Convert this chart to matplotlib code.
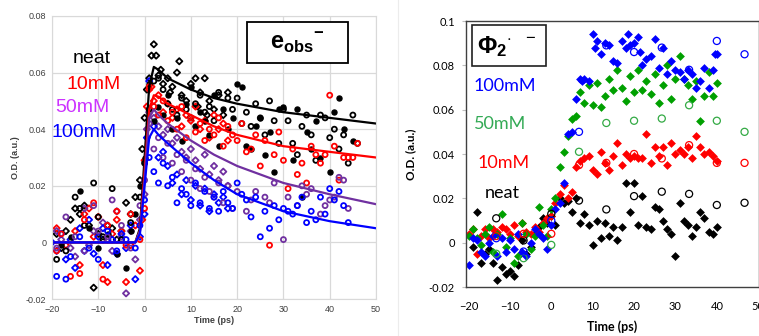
import matplotlib.pyplot as plt
from matplotlib.patches import Rectangle
from matplotlib.lines import Line2D

# ---------------- left panel: e_obs- decay ----------------
neat_circ_t = [-19, -17, -15, -14, -13, -11, -10, -9, -7, -5, -3, -1, 0,
               1, 2, 3, 4, 5, 6, 7, 8, 9, 10, 11, 12, 13, 14, 15, 16, 18, 19, 20, 21, 22, 23, 24,
               25, 26, 27, 28, 29, 30, 31, 32, 33, 34, 35, 36, 37, 38, 39, 40, 41, 42, 43, 44, 45, 46]
neat_circ_v = [-0.006, -0.003, 0.016, 0.012, 0.006, 0.021, 0.009, 0.002, 0.019, 0.001, 0.007, 0.016, 0.028,
               0.047, 0.057, 0.058, 0.054, 0.049, 0.047, 0.045, 0.051, 0.047, 0.044, 0.049, 0.052, 0.046, 0.048,
               0.043, 0.053, 0.051, 0.047, 0.051, 0.042, 0.046, 0.041, 0.049, 0.044, 0.038, 0.050, 0.043, 0.035,
               0.047, 0.043, 0.035, 0.031, 0.041, 0.045, 0.038, 0.029, 0.045, 0.044, 0.037, 0.040, 0.033, 0.038,
               0.028, 0.045, 0.035]

neat_dot_t = [-18, -16, -14, -12, -10, -8, -6, -4, -3, -2, -1, 0,
              1, 2, 3, 4, 5, 6, 7, 8, 9, 10, 11, 12, 13, 14, 15, 16, 17, 18, 19, 20, 21, 22, 23, 24,
              25, 26, 27, 28, 29, 30, 32, 33, 34, 35, 36, 37, 38, 40, 41, 42, 43, 45]
neat_dot_v = [-0.001, 0.002, 0.018, 0.005, -0.002, 0.003, -0.004, -0.009, 0.004, 0.010, 0.020, 0.030,
              0.056, 0.043, 0.048, 0.045, 0.052, 0.040, 0.044, 0.036, 0.049, 0.055, 0.041, 0.046, 0.043,
              0.038, 0.052, 0.034, 0.047, 0.040, 0.044, 0.056, 0.055, 0.034, 0.033, 0.041, 0.044, 0.031,
              0.039, 0.025, 0.047, 0.048, 0.029, 0.047, 0.016, 0.039, 0.033, 0.043, 0.030, 0.025, 0.046,
              0.051, 0.040, 0.036]

neat_dia_t = [-19, -18, -17, -16, -15, -14, -13, -12, -11, -10, -9, -8, -7, -6, -5, -4, -3, -2, -1, -0.5, 0,
              0.5, 1, 1.5, 2, 2.5, 3, 3.5, 4, 5, 5.5, 6, 7, 7.5, 8, 9, 10, 11, 11.5, 12, 13, 13.5, 14, 15,
              16, 17, 18]
neat_dia_v = [0.003, -0.002, 0.004, 0.008, 0.012, 0.010, 0.013, 0.006, -0.016, 0.003, 0.001, 0.006, 0.005,
              0.001, 0.004, 0.014, 0.010, 0.016, 0.022, 0.033, 0.044,
              0.054, 0.058, 0.066, 0.070, 0.066, 0.059, 0.061, 0.056, 0.058, 0.053, 0.055, 0.060, 0.064,
              0.052, 0.050, 0.056, 0.058, 0.048, 0.053, 0.058, 0.045, 0.050, 0.047, 0.052, 0.045, 0.053]

r10_circ_t = [-19, -18, -16, -14, -13, -11, -9, -8, -6, -4, -3, -1, 0,
              1, 2, 3, 4, 5, 6, 7, 8, 9, 10, 11, 12, 13, 14, 15, 16, 17, 18, 19, 20, 21, 22, 23, 24,
              25, 26, 27, 28, 29, 30, 31, 32, 33, 34, 35, 36, 37, 38, 39, 40, 41, 42, 43, 44, 45, 46]
r10_circ_v = [-0.003, 0.003, -0.012, -0.011, 0.008, 0.014, -0.013, 0.006, 0.011, -0.001, 0.010, 0.001, 0.012,
              0.055, 0.048, 0.045, 0.050, 0.043, 0.046, 0.040, 0.048, 0.037, 0.044, 0.039, 0.042, 0.036,
              0.040, 0.038, 0.044, 0.034, 0.041, 0.038, 0.036, 0.042, 0.032, 0.033, 0.038, 0.027, 0.036,
              -0.001, 0.031, 0.039, 0.029, 0.019, 0.033, 0.024, 0.028, 0.021, 0.034, 0.031, 0.028, 0.031,
              0.052, 0.034, 0.022, 0.030, 0.030, 0.030, 0.035]

r10_dia_t = [-19, -17, -15, -14, -13, -12, -11, -10, -9, -8, -7, -6, -5, -4, -3, -2, -1, -0.5, 0,
             0.5, 1, 1.5, 2, 3, 4, 5, 6, 7, 8, 9, 10, 11, 12, 13, 14, 15, 16, 17, 18]
r10_dia_v = [0.005, -0.001, 0.004, -0.008, 0.010, 0.012, 0.002, 0.009, -0.008, -0.014, 0.003, 0.008, 0.004,
             -0.014, -0.001, 0.006, -0.010, 0.008, 0.029,
             0.048, 0.054, 0.055, 0.050, 0.052, 0.046, 0.049, 0.044, 0.047, 0.041, 0.045, 0.043, 0.048,
             0.040, 0.043, 0.037, 0.045, 0.040, 0.042, 0.036]

r50_circ_t = [-19, -17, -15, -13, -11, -10, -8, -7, -5, -3, -1, 0,
              1, 2, 3, 4, 5, 6, 7, 8, 9, 10, 11, 12, 13, 14, 15, 16, 17, 18, 19, 20, 22, 23, 24,
              26, 27, 28, 30, 31, 33, 34, 35, 36, 38, 39, 40, 41, 42, 43, 44]
r50_circ_v = [-0.002, 0.009, 0.002, -0.003, 0.013, 0.004, 0.002, 0.015, 0.006, -0.002, 0.013, 0.022,
              0.042, 0.033, 0.037, 0.030, 0.035, 0.028, 0.031, 0.025, 0.029, 0.022, 0.026, 0.019, 0.023,
              0.018, 0.016, 0.021, 0.014, 0.020, 0.012, 0.018, 0.011, 0.015, 0.018, 0.016, 0.014, 0.021,
              0.001, 0.016, 0.013, 0.020, 0.017, 0.019, 0.010, 0.013, 0.015, 0.016, 0.023, 0.022, 0.012]

r50_dia_t = [-19, -18, -16, -15, -13, -12, -11, -9, -8, -7, -6, -5, -4, -3, -2, -1, 0,
             0.5, 1, 2, 3, 4, 5, 6, 7, 8, 9, 10, 11, 12, 13, 14, 15, 16, 17, 18]
r50_dia_v = [0.004, 0.001, -0.002, -0.005, 0.012, -0.001, 0.004, 0.007, 0.001, -0.003, 0.011, 0.002,
             -0.018, 0.004, -0.006, 0.008, 0.017,
             0.040, 0.046, 0.044, 0.041, 0.038, 0.040, 0.035, 0.037, 0.032, 0.030, 0.033, 0.029, 0.026,
             0.031, 0.024, 0.027, 0.022, 0.025, 0.020]

r100_circ_t = [-19, -17, -16, -14, -12, -10, -8, -6, -4, -2, -1, 0,
               1, 2, 3, 4, 5, 6, 7, 8, 9, 10, 11, 12, 13, 14, 15, 16, 17, 18, 19, 20, 21, 22, 23, 24,
               25, 26, 27, 28, 29, 30, 31, 32, 33, 34, 35, 36, 37, 38, 39, 40, 41, 42, 43, 44]
r100_circ_v = [-0.012, -0.013, -0.005, 0.002, -0.002, -0.006, 0.004, -0.003, 0.001, -0.002, 0.006, 0.015,
               0.030, 0.025, 0.021, 0.028, 0.020, 0.023, 0.014, 0.019, 0.017, 0.013, 0.021, 0.014, 0.018,
               0.012, 0.016, 0.011, 0.018, 0.014, 0.012, 0.021, 0.017, 0.015, 0.009, 0.016, 0.002, 0.011,
               0.005, 0.013, 0.008, 0.012, 0.011, 0.010, 0.013, 0.016, 0.007, 0.011, 0.008, 0.016, 0.010,
               0.019, 0.015, 0.018, 0.013, 0.007]

r100_dia_t = [-20, -19, -18, -17, -16, -15, -14, -13, -12, -11, -10, -9, -8, -7, -6, -5, -4, -3, -2, -1, 0,
              0.5, 1, 2, 3, 4, 5, 6, 7, 8, 9, 10, 11, 12, 13, 14, 15, 16, 17, 18]
r100_dia_v = [0.000, -0.003, 0.003, -0.006, 0.001, -0.009, 0.005, -0.003, 0.008, -0.004, 0.002, 0.005,
              -0.008, 0.001, -0.004, 0.003, -0.002, 0.006, -0.013, 0.002, 0.010,
              0.037, 0.057, 0.041, 0.030, 0.032, 0.027, 0.021, 0.024, 0.017, 0.022, 0.015, 0.020, 0.013,
              0.019, 0.011, 0.017, 0.014, 0.016, 0.012]

# fitted curves
fit_t = [-20, -2, -1, 0, 1, 2, 3, 5, 10, 15, 20, 30, 40, 50]
fit_neat = [0, 0, 0.005, 0.030, 0.055, 0.062, 0.061, 0.058, 0.054, 0.051, 0.049, 0.046, 0.044, 0.042]
fit_10 = [0, 0, 0.004, 0.025, 0.047, 0.052, 0.0515, 0.049, 0.045, 0.041, 0.038, 0.034, 0.032, 0.030]
fit_50 = [0, 0, 0.004, 0.022, 0.044, 0.047, 0.045, 0.042, 0.036, 0.031, 0.027, 0.021, 0.017, 0.0135]
fit_100 = [0, 0, 0.003, 0.020, 0.037, 0.040, 0.038, 0.035, 0.028, 0.022, 0.017, 0.011, 0.0075, 0.005]

left_yticks = [-0.02, 0, 0.02, 0.04, 0.06, 0.08]
left_ylabels = ["-0.02", "0", "0.02", "0.04", "0.06", "0.08"]
left_xticks = [-20, -10, 0, 10, 20, 30, 40, 50]

# ---------------- right panel: Phi2 anion ----------------
b_neat_t = [-19, -18, -17, -16, -15, -14, -13, -12, -11, -10, -9, -8, -7, -6, -5, -4, -3, -2, -1, 0,
            1, 2, 3, 4, 5, 6, 7, 8, 9, 10, 11, 12, 13, 14, 15, 16, 17, 18, 19, 20, 21, 22, 23, 24, 25,
            26, 27, 28, 29, 30, 31, 32, 33, 34, 35, 36, 37, 38, 39, 40]
b_neat_v = [-0.002, 0.014, -0.009, -0.005, -0.003, -0.009, -0.017, -0.011, -0.014, -0.013, -0.015, -0.010,
            0.001, -0.005, -0.002, 0.004, 0.007, 0.011, 0.009, 0.012,
            0.008, 0.020, 0.018, 0.019, 0.014, 0.020, 0.009, 0.013, 0.008, -0.001, 0.010, 0.002, 0.009,
            0.003, 0.007, 0.001, 0.007, 0.027, 0.014, 0.027, 0.008, 0.021, 0.007, 0.006, 0.016, 0.015,
            0.010, 0.006, 0.004, -0.006, 0.018, 0.010, 0.008, 0.003, 0.007, 0.014, 0.011, 0.005, 0.004, 0.007]

b_10_t = [-20, -19, -18, -17, -16, -15, -14, -13, -12, -11, -10, -9, -8, -7, -6, -5, -4, -3, -2, -1, 0, 1, 2,
          3, 4, 5, 6, 7, 8, 9, 10, 11, 12, 13, 14, 15, 16, 17, 18, 19, 20, 21, 22, 23, 24, 25, 26,
          27, 28, 29, 30, 31, 32, 33, 34, 35, 36, 37, 38, 39, 40]
b_10_v = [0.004, 0.006, -0.005, 0.003, 0.006, 0.002, 0.006, 0.005, 0.007, 0.006, 0.004, 0.008, 0.003, 0.009,
          0.005, 0.004, 0.007, 0.005, 0.009, 0.011, 0.012, 0.018, 0.022,
          0.026, 0.020, 0.023, 0.034, 0.037, 0.038, 0.039, 0.033, 0.031, 0.041, 0.036, 0.033, 0.039,
          0.045, 0.035, 0.040, 0.038, 0.039, 0.038, 0.038, 0.049, 0.036, 0.043, 0.039, 0.043, 0.035,
          0.045, 0.040, 0.042, 0.040, 0.043, 0.038, 0.048, 0.043, 0.040, 0.041, 0.039, 0.037]

b_50_t = [-20, -19, -18, -17, -16, -15, -14, -13, -12, -11, -10, -9, -8, -7, -6, -5, -4, -3, -2, -1, 0, 1, 2,
          3, 4, 5, 6, 7, 8, 9, 10, 11, 12, 13, 14, 15, 16, 17, 18, 19, 20, 21, 22, 23, 24, 25, 26,
          27, 28, 29, 30, 31, 32, 33, 34, 35, 36, 37, 38, 39, 40]
b_50_v = [0.003, 0.006, 0.002, -0.001, 0.004, 0.007, -0.004, 0.004, 0.013, -0.002, 0.002, -0.009, -0.006,
          0.009, 0.004, -0.003, 0.003, 0.016, 0.008, 0.003, 0.015, 0.020, 0.034,
          0.041, 0.048, 0.056, 0.057, 0.068, 0.063, 0.071, 0.062, 0.072, 0.061, 0.066, 0.074, 0.069,
          0.078, 0.070, 0.064, 0.075, 0.068, 0.078, 0.069, 0.073, 0.067, 0.076, 0.063, 0.071, 0.080,
          0.065, 0.074, 0.084, 0.074, 0.071, 0.065, 0.073, 0.055, 0.066, 0.077, 0.066, 0.072]

b_100_t = [-20, -19, -18, -17, -16, -15, -14, -13, -12, -11, -10, -9, -8, -7, -6, -5, -4, -3, -2, -1, 0, 1,
           2, 3, 4, 5, 6, 7, 7.5, 8, 9, 10, 10.5, 11, 12, 13, 14, 15, 16, 17, 18, 18.5, 19, 20, 21, 21.5,
           22, 23, 24, 25, 26, 27, 28, 29, 30, 31, 32, 33, 34, 35, 36, 37, 38, 39, 39.5, 40]
b_100_v = [-0.010, 0.002, 0.001, -0.004, -0.006, 0.000, 0.003, -0.006, 0.002, -0.004, 0.001, -0.003, 0.004,
           -0.004, -0.006, 0.000, 0.006, 0.004, 0.002, -0.003, 0.008, 0.015,
           0.018, 0.027, 0.049, 0.050, 0.065, 0.074, 0.073, 0.074, 0.073, 0.094, 0.088, 0.091, 0.085,
           0.090, 0.089, 0.082, 0.081, 0.091, 0.088, 0.094, 0.089, 0.090, 0.093, 0.086, 0.080, 0.083,
           0.084, 0.092, 0.079, 0.088, 0.076, 0.082, 0.078, 0.077, 0.074, 0.078, 0.076, 0.070, 0.073,
           0.079, 0.070, 0.078, 0.085, 0.085]

# sparse long-delay points (open circles)
c_t = [-13.3, -6.7, 0, 6.7, 13.3, 20, 26.7, 33.3, 40, 46.7]
c_neat = [0.011, 0.001, 0.013, 0.019, 0.015, 0.021, 0.023, 0.022, 0.017, 0.018]
c_10 = [0.003, 0.004, 0.004, 0.035, 0.036, 0.040, 0.038, 0.044, 0.036, 0.036]
c_50 = [-0.005, -0.007, -0.001, 0.041, 0.054, 0.055, 0.056, 0.062, 0.055, 0.050]
c_100 = [0.002, -0.004, 0.010, 0.050, 0.089, 0.086, 0.088, 0.078, 0.091, 0.085]

right_yticks = [-0.02, 0, 0.02, 0.04, 0.06, 0.08, 0.1]
right_ylabels = ["-0.02", "0", "0.02", "0.04", "0.06", "0.08", "0.1"]
right_xticks = [-20, -10, 0, 10, 20, 30, 40, 50]

PURPLE = "#7030A0"
GREEN = "#00A000"


def open_marks(ax, t, v, color, marker, size):
    ax.scatter(t, v, s=size, marker=marker, facecolors="none", edgecolors=color, linewidths=1.3)


def draw_left(fig):
    ax = fig.add_axes([0.0685, 0.1101, 0.4269, 0.8423])
    ax.set_xlim(-20, 50)
    ax.set_ylim(-0.02, 0.08)
    ax.grid(True, color="#d9d9d9", linewidth=0.9)
    ax.set_axisbelow(True)
    for s in ax.spines.values():
        s.set_color("#d9d9d9")
    ax.tick_params(length=0, labelsize=6.5, colors="#404040", pad=4)
    ax.set_xticks(left_xticks)
    ax.set_yticks(left_yticks)
    ax.set_yticklabels(left_ylabels)

    # data points
    open_marks(ax, neat_dia_t, neat_dia_v, "black", "D", 10)
    open_marks(ax, r10_dia_t, r10_dia_v, "red", "D", 10)
    open_marks(ax, r50_dia_t, r50_dia_v, PURPLE, "D", 10)
    open_marks(ax, r100_dia_t, r100_dia_v, "blue", "D", 10)
    open_marks(ax, neat_circ_t, neat_circ_v, "black", "o", 13)
    ax.scatter(neat_dot_t, neat_dot_v, s=13, color="black")
    open_marks(ax, r10_circ_t, r10_circ_v, "red", "o", 13)
    open_marks(ax, r50_circ_t, r50_circ_v, PURPLE, "o", 13)
    open_marks(ax, r100_circ_t, r100_circ_v, "blue", "o", 13)

    # fits
    ax.plot(fit_t, fit_neat, color="black", lw=1.6)
    ax.plot(fit_t, fit_10, color="red", lw=1.6)
    ax.plot(fit_t, fit_50, color=PURPLE, lw=1.6)
    ax.plot(fit_t, fit_100, color="blue", lw=1.6)

    ax.set_xlabel("Time (ps)", fontsize=6.5, fontweight="bold", color="#404040", labelpad=2)
    ax.set_ylabel("O.D. (a.u.)", fontsize=6.5, fontweight="bold", color="#404040", labelpad=4)

    lab = dict(fontsize=14, family="Liberation Sans", transform=ax.transAxes, va="center")
    ax.text(0.065, 0.85, "neat", color="black", **lab)
    ax.text(0.045, 0.757, "10mM", color="red", **lab)
    ax.text(0.010, 0.675, "50mM", color="#CC33FF", **lab)
    ax.text(-0.003, 0.588, "100mM", color="blue", **lab)

    # e_obs- box
    fig.patches.append(Rectangle((0.3254, 0.8125), 0.1331, 0.122, transform=fig.transFigure,
                                 facecolor="white", edgecolor="black", lw=1.3, zorder=5))
    fig.text(0.3913, 0.872, r"$\mathbf{e_{obs}}^{\mathbf{-}}$", fontsize=17, ha="center",
             va="center", zorder=6)


def draw_right(fig):
    # faint border of the second image
    fig.add_artist(Line2D([398 / 759, 398 / 759], [0, 1], color="#ececec", lw=0.8))

    ax = fig.add_axes([0.614, 0.1458, 0.3855, 0.7917])
    ax.set_xlim(-20.6, 50.1)
    ax.set_ylim(-0.02, 0.1)
    for s in ax.spines.values():
        s.set_color("#404040")
        s.set_linewidth(1.0)
    ax.tick_params(axis="x", length=0, labelsize=8, pad=10)
    ax.tick_params(axis="y", length=3, direction="out", color="#bfbfbf", labelsize=8, pad=5)
    ax.set_xticks(right_xticks)
    ax.set_yticks(right_yticks)
    ax.set_yticklabels(right_ylabels)
    for lbl in ax.get_xticklabels() + ax.get_yticklabels():
        lbl.set_family("Lato")

    dia = dict(s=20, marker="D", linewidths=0)
    ax.scatter(b_neat_t, b_neat_v, color="black", **dia)
    ax.scatter(b_10_t, b_10_v, color="red", **dia)
    ax.scatter(b_50_t, b_50_v, color=GREEN, **dia)
    ax.scatter(b_100_t, b_100_v, color="blue", **dia)

    circ = dict(s=26, marker="o", facecolors="none", linewidths=0.9)
    ax.scatter(c_t, c_neat, edgecolors="black", **circ)
    ax.scatter(c_t, c_10, edgecolors="red", **circ)
    ax.scatter(c_t, c_50, edgecolors="#33AA44", **circ)
    ax.scatter(c_t, c_100, edgecolors="blue", **circ)

    ax.set_xlabel("Time (ps)", fontsize=9, fontweight="bold", family="Lato", labelpad=6)
    ax.set_ylabel("O.D. (a.u.)", fontsize=8.5, fontweight="bold", family="Lato", labelpad=9)

    lab = dict(fontsize=13, family="Lato", va="center")
    fig.text(474 / 759, 1 - 86 / 336, "100mM", color="blue", **lab)
    fig.text(474 / 759, 1 - 124 / 336, "50mM", color="#33AA55", **lab)
    fig.text(478 / 759, 1 - 163 / 336, "10mM", color="red", **lab)
    fig.text(485 / 759, 1 - 193 / 336, "neat", color="black", **lab)

    # Phi2 box
    fig.patches.append(Rectangle((0.6219, 0.8036), 0.0975, 0.122, transform=fig.transFigure,
                                 facecolor="white", edgecolor="#202020", lw=1.2, zorder=5))
    fig.text(0.668, 0.862, r"$\mathbf{\Phi_2}^{\cdot\ \ -}$", fontsize=17, ha="center",
             va="center", zorder=6)


if __name__ == "__main__":
    plt.rcParams["font.family"] = "Liberation Sans"
    plt.rcParams["mathtext.fontset"] = "custom"
    plt.rcParams["mathtext.rm"] = "Liberation Sans"
    plt.rcParams["mathtext.bf"] = "Liberation Sans:bold"

    fig = plt.figure(figsize=(7.59, 3.36), dpi=100)
    draw_left(fig)
    draw_right(fig)
    fig.savefig("out.png", dpi=100)
